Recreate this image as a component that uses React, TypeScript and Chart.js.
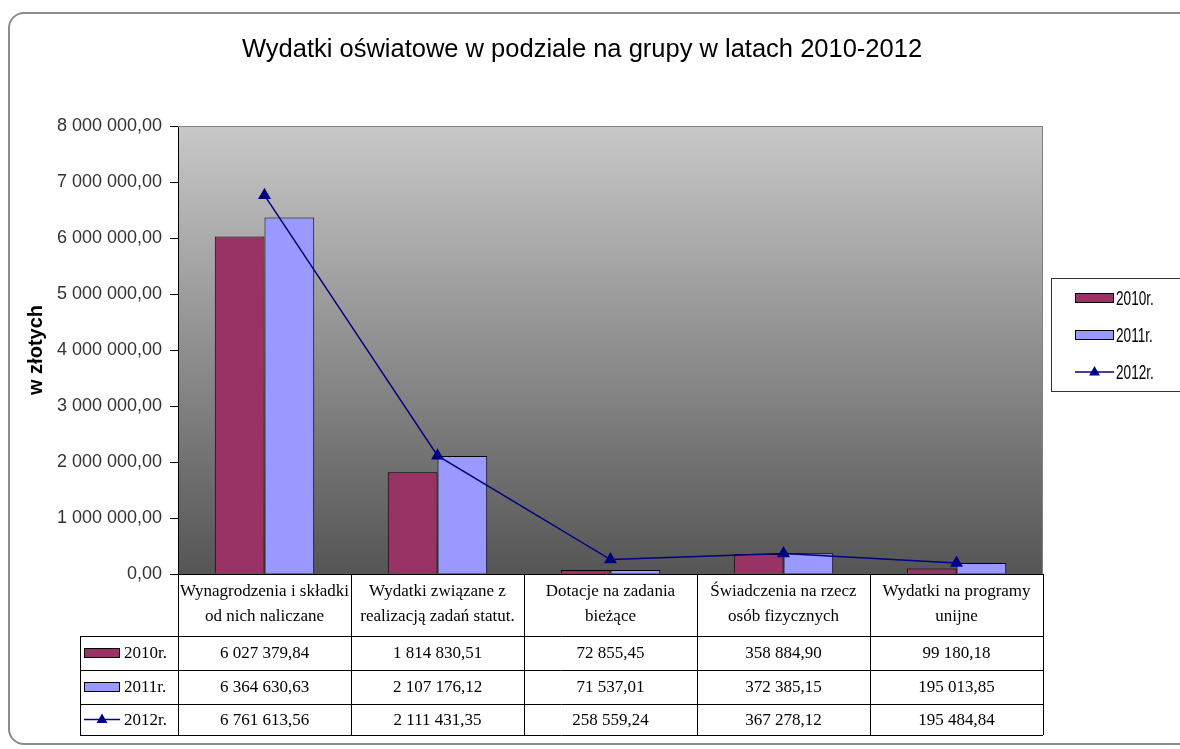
import React, { useEffect, useRef } from "react";
import { Chart, registerables } from "chart.js";

Chart.register(...registerables);

const TITLE = "Wydatki oświatowe w podziale na grupy w latach 2010-2012";
const Y_TITLE = "w złotych";
const CATEGORIES: string[][] = [
  ["Wynagrodzenia i składki", "od nich naliczane"],
  ["Wydatki związane z", "realizacją zadań statut."],
  ["Dotacje na zadania", "bieżące"],
  ["Świadczenia na rzecz", "osób fizycznych"],
  ["Wydatki na programy", "unijne"],
];
const SERIES_NAMES = ["2010r.", "2011r.", "2012r."];
const VALUES_2010 = [6027379.84, 1814830.51, 72855.45, 358884.9, 99180.18];
const VALUES_2011 = [6364630.63, 2107176.12, 71537.01, 372385.15, 195013.85];
const VALUES_2012 = [6761613.56, 2111431.35, 258559.24, 367278.12, 195484.84];
const Y_MIN = 0;
const Y_MAX = 8000000;
const Y_STEP = 1000000;

const C2010 = "#993366";
const C2011 = "#9999FF";
const C2012 = "#000080";
const SANS = "'Liberation Sans', Arial, sans-serif";
const SERIF = "'Liberation Serif', 'Times New Roman', serif";

function fmt(n: number): string {
  const [i, d] = n.toFixed(2).split(".");
  return i.replace(/\B(?=(\d{3})+(?!\d))/g, " ") + "," + d;
}

function drawTriangle(ctx: CanvasRenderingContext2D, x: number, y: number, r: number) {
  ctx.beginPath();
  ctx.moveTo(x, y - r);
  ctx.lineTo(x + r * 0.9, y + r * 0.6);
  ctx.lineTo(x - r * 0.9, y + r * 0.6);
  ctx.closePath();
  ctx.fill();
}

function drawKey(ctx: CanvasRenderingContext2D, idx: number, x: number, y: number, w: number, h: number) {
  ctx.save();
  if (idx < 2) {
    ctx.fillStyle = idx === 0 ? C2010 : C2011;
    ctx.fillRect(x, y - h / 2, w, h);
    ctx.strokeStyle = "#000";
    ctx.lineWidth = 1;
    ctx.strokeRect(x + 0.5, y - h / 2 + 0.5, w - 1, h - 1);
  } else {
    ctx.strokeStyle = C2012;
    ctx.lineWidth = 1.5;
    ctx.beginPath();
    ctx.moveTo(x, y);
    ctx.lineTo(x + w, y);
    ctx.stroke();
    ctx.fillStyle = C2012;
    drawTriangle(ctx, x + w / 2, y, 6);
  }
  ctx.restore();
}

const decorPlugin = {
  id: "decor",
  beforeDraw(chart: any) {
    const { ctx, chartArea: a } = chart;
    const g = ctx.createLinearGradient(0, a.top, 0, a.bottom);
    g.addColorStop(0, "#c8c8c8");
    g.addColorStop(1, "#555555");
    ctx.save();
    ctx.fillStyle = g;
    ctx.fillRect(a.left, a.top, a.right - a.left, a.bottom - a.top);
    ctx.restore();
  },
  afterDraw(chart: any) {
    const { ctx, chartArea: a } = chart;
    const xs = chart.scales.x;
    ctx.save();
    // title
    ctx.fillStyle = "#000";
    ctx.font = `25.5px ${SANS}`;
    ctx.textAlign = "center";
    ctx.textBaseline = "middle";
    ctx.fillText(TITLE, 574, 38);

    // plot border top/right
    ctx.strokeStyle = "#808080";
    ctx.lineWidth = 1;
    ctx.beginPath();
    ctx.moveTo(a.left, a.top + 0.5);
    ctx.lineTo(a.right - 0.5, a.top + 0.5);
    ctx.lineTo(a.right - 0.5, a.bottom);
    ctx.stroke();

    // legend box
    ctx.strokeStyle = "#333";
    ctx.strokeRect(1043.5, 266.5, 140, 113);
    const legY = [286, 323, 360];
    ctx.font = `20px ${SANS}`;
    ctx.textAlign = "left";
    SERIES_NAMES.forEach((name, i) => {
      drawKey(ctx, i, 1067, legY[i], 39, 10);
      ctx.save();
      ctx.fillStyle = "#000";
      ctx.translate(1108, legY[i] + 1);
      ctx.scale(0.68, 1);
      ctx.fillText(name, 0, 0);
      ctx.restore();
    });

    // data table
    const step = xs.getPixelForValue(1) - xs.getPixelForValue(0);
    const headerBottom = a.bottom + 62;
    const rowBottoms = [headerBottom + 34, headerBottom + 68, headerBottom + 99];
    const tableLeft = 72;
    ctx.strokeStyle = "#000";
    ctx.lineWidth = 1;
    ctx.beginPath();
    ctx.moveTo(a.left - 8, a.bottom + 0.5);
    ctx.lineTo(a.right, a.bottom + 0.5);
    ctx.stroke();
    [headerBottom, ...rowBottoms].forEach((yy) => {
      ctx.beginPath();
      ctx.moveTo(tableLeft, Math.round(yy) + 0.5);
      ctx.lineTo(a.right, Math.round(yy) + 0.5);
      ctx.stroke();
    });
    for (let i = 0; i <= CATEGORIES.length; i++) {
      const x = Math.round(xs.getPixelForValue(0) - step / 2 + i * step) + 0.5;
      ctx.beginPath();
      ctx.moveTo(x, a.bottom);
      ctx.lineTo(x, rowBottoms[2]);
      ctx.stroke();
    }
    ctx.beginPath();
    ctx.moveTo(tableLeft + 0.5, headerBottom);
    ctx.lineTo(tableLeft + 0.5, rowBottoms[2]);
    ctx.stroke();

    ctx.fillStyle = "#000";
    ctx.font = `17px ${SERIF}`;
    ctx.textAlign = "center";
    ctx.textBaseline = "middle";
    CATEGORIES.forEach((lines, i) => {
      const cx = xs.getPixelForValue(i);
      lines.forEach((ln, j) => ctx.fillText(ln, cx, a.bottom + 18 + j * 25));
    });
    const series = [VALUES_2010, VALUES_2011, VALUES_2012];
    const rowTops = [headerBottom, rowBottoms[0], rowBottoms[1]];
    series.forEach((vals, r) => {
      const cy = (rowTops[r] + rowBottoms[r]) / 2 + 1;
      vals.forEach((v, i) => {
        ctx.fillText(fmt(v), xs.getPixelForValue(i), cy);
      });
      drawKey(ctx, r, tableLeft + 4, cy - 1, 36, 10);
      ctx.fillStyle = "#000";
      ctx.textAlign = "left";
      ctx.fillText(SERIES_NAMES[r], tableLeft + 44, cy);
      ctx.textAlign = "center";
    });
    ctx.restore();
  },
};

export default function App() {
  const ref = useRef<HTMLCanvasElement | null>(null);
  useEffect(() => {
    if (!ref.current) return;
    const chart = new Chart(ref.current, {
      type: "bar",
      data: {
        labels: CATEGORIES.map((c) => c.join(" ")),
        datasets: [
          {
            type: "line",
            label: SERIES_NAMES[2],
            data: VALUES_2012,
            borderColor: C2012,
            backgroundColor: C2012,
            borderWidth: 1.5,
            pointStyle: "triangle",
            pointRadius: 6,
            pointBackgroundColor: C2012,
            pointBorderColor: C2012,
            tension: 0,
            order: 0,
          } as any,
          {
            label: SERIES_NAMES[0],
            data: VALUES_2010,
            backgroundColor: C2010,
            borderColor: "#000",
            borderWidth: 1,
            categoryPercentage: 0.575,
            barPercentage: 1,
            order: 1,
          },
          {
            label: SERIES_NAMES[1],
            data: VALUES_2011,
            backgroundColor: C2011,
            borderColor: "#000",
            borderWidth: 1,
            categoryPercentage: 0.575,
            barPercentage: 1,
            order: 1,
          },
        ],
      },
      options: {
        responsive: false,
        animation: false,
        layout: { padding: { top: 114, right: 137, bottom: 171, left: 0 } },
        plugins: {
          legend: { display: false },
          title: { display: false },
          tooltip: { enabled: false },
        },
        scales: {
          x: { display: false, offset: true },
          y: {
            min: Y_MIN,
            max: Y_MAX,
            afterFit: (s: any) => {
              s.width = 170;
            },
            ticks: {
              stepSize: Y_STEP,
              padding: 8,
              color: "#333",
              font: { family: SANS, size: 18 },
              callback: (v: any) => fmt(Number(v)),
            },
            grid: {
              drawOnChartArea: false,
              drawTicks: true,
              tickLength: 8,
              color: "#000",
            },
            border: { display: true, color: "#000" },
            title: {
              display: true,
              text: Y_TITLE,
              color: "#000",
              font: { family: SANS, size: 20, weight: "bold" },
              padding: { top: 16, bottom: 0 },
            },
          },
        },
      },
      plugins: [decorPlugin],
    });
    return () => chart.destroy();
  }, []);
  return (
    <div
      style={{
        position: "absolute",
        left: 8,
        top: 12,
        width: 1172,
        height: 733,
        overflow: "hidden",
        background: "#fff",
      }}
    >
      <canvas ref={ref} width={1172} height={733} style={{ display: "block", width: 1172, height: 733 }} />
      <div
        style={{
          position: "absolute",
          left: 0,
          top: 0,
          width: 1200,
          height: 733,
          boxSizing: "border-box",
          border: "2px solid #8c8c8c",
          borderRadius: 16,
          pointerEvents: "none",
        }}
      />
    </div>
  );
}
